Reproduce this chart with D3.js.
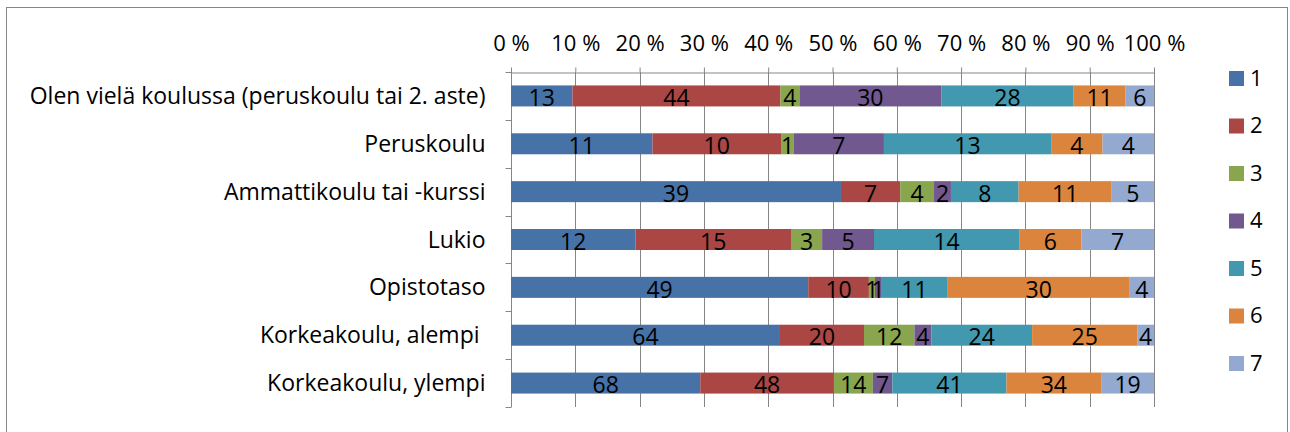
<!DOCTYPE html>
<html>
<head>
<meta charset="UTF-8">
<script src="https://d3js.org/d3.v7.min.js"></script>
<style>
  body { margin: 0; background: #fff; }
  text { font-family: "Open Sans", "Noto Sans", sans-serif; fill: #000; }
</style>
</head>
<body>
<svg id="chart" width="1290" height="432"></svg>
<script>
// categories (top to bottom)
var categories = [
  'Olen vielä koulussa (peruskoulu tai 2. aste)',
  'Peruskoulu',
  'Ammattikoulu tai -kurssi',
  'Lukio',
  'Opistotaso',
  'Korkeakoulu, alempi ',
  'Korkeakoulu, ylempi'
];
var seriesNames = ['1', '2', '3', '4', '5', '6', '7'];
// counts per series, one value per category
var s1 = [13, 11, 39, 12, 49, 64, 68];
var s2 = [44, 10, 7, 15, 10, 20, 48];
var s3 = [4, 1, 4, 3, 1, 12, 14];
var s4 = [30, 7, 2, 5, 1, 4, 7];
var s5 = [28, 13, 8, 14, 11, 24, 41];
var s6 = [11, 4, 11, 6, 30, 25, 34];
var s7 = [6, 4, 5, 7, 4, 4, 19];
var tickValues = [0, 0.1, 0.2, 0.3, 0.4, 0.5, 0.6, 0.7, 0.8, 0.9, 1];

var colors = ['#4672a8', '#aa4643', '#89a54e', '#71588f', '#4198af', '#db843d', '#93a9cf'];
var allSeries = [s1, s2, s3, s4, s5, s6, s7];
var fontSize = '22px';

var svg = d3.select('#chart');

// outer frame
svg.append('rect')
   .attr('x', 6.5).attr('y', 7.5)
   .attr('width', 1281).attr('height', 440)
   .attr('fill', 'none').attr('stroke', '#868686').attr('stroke-width', 1);

var plotLeft = 511, plotRight = 1154, plotTop = 72, plotBottom = 407;

var x = d3.scaleLinear().domain([0, 1]).range([plotLeft, plotRight]);
var y = d3.scaleBand().domain(categories).range([plotTop, plotBottom]);

// build normalised stacks
var rows = categories.map(function(c, i) {
  var total = d3.sum(allSeries, function(s) { return s[i]; });
  var acc = 0;
  return allSeries.map(function(s, k) {
    var v = s[i];
    var seg = { cat: c, k: k, value: v, x0: acc / total, x1: (acc + v) / total };
    acc += v;
    return seg;
  });
});

// gridlines
svg.append('g').selectAll('line')
   .data(tickValues.slice(1))
   .enter().append('line')
     .attr('x1', function(d) { return Math.round(x(d)) + 0.5; })
     .attr('x2', function(d) { return Math.round(x(d)) + 0.5; })
     .attr('y1', plotTop).attr('y2', plotBottom)
     .attr('stroke', '#868686').attr('stroke-width', 1);

// top axis (line + ticks), labels placed higher
var xAxis = svg.append('g')
   .attr('transform', 'translate(0,' + (plotTop + 0.5) + ')')
   .call(d3.axisTop(x).tickValues(tickValues).tickSize(5).tickSizeOuter(0)
          .tickFormat(function(d) { return Math.round(d * 100) + ' %'; }));
xAxis.select('.domain').attr('stroke', '#868686');
xAxis.selectAll('.tick line').attr('stroke', '#868686');
xAxis.selectAll('.tick text')
     .attr('y', -22)
     .style('font-size', fontSize)
     .style('font-family', '"Open Sans", sans-serif')
     .attr('fill', '#000');

// left axis
var yAxis = svg.append('g')
   .attr('transform', 'translate(' + (plotLeft + 0.5) + ',0)');
yAxis.append('line')
     .attr('x1', 0).attr('x2', 0).attr('y1', plotTop).attr('y2', plotBottom)
     .attr('stroke', '#868686');
yAxis.selectAll('line.tk')
     .data(d3.range(categories.length + 1))
     .enter().append('line')
       .attr('class', 'tk')
       .attr('x1', -6).attr('x2', 0)
       .attr('y1', function(i) { return Math.round(plotTop + i * y.step()) + 0.5; })
       .attr('y2', function(i) { return Math.round(plotTop + i * y.step()) + 0.5; })
       .attr('stroke', '#868686');
yAxis.selectAll('text')
     .data(categories)
     .enter().append('text')
       .attr('x', -26)
       .attr('y', function(d) { return y(d) + y.bandwidth() / 2; })
       .attr('dy', '0.35em')
       .attr('text-anchor', 'end')
       .style('font-size', '23px')
       .style('white-space', 'pre')
       .text(function(d) { return d; });

// bars
var barH = 21;
var gRows = svg.append('g').selectAll('g')
   .data(rows).enter().append('g');

gRows.selectAll('rect')
   .data(function(d) { return d; })
   .enter().append('rect')
     .attr('x', function(d) { return x(d.x0); })
     .attr('width', function(d) { return x(d.x1) - x(d.x0); })
     .attr('y', function(d) { return y(d.cat) + y.bandwidth() / 2 - barH / 2; })
     .attr('height', barH)
     .attr('fill', function(d) { return colors[d.k]; });

gRows.selectAll('text')
   .data(function(d) { return d; })
   .enter().append('text')
     .attr('x', function(d) { return (x(d.x0) + x(d.x1)) / 2; })
     .attr('y', function(d) { return y(d.cat) + y.bandwidth() / 2 + 2; })
     .attr('dy', '0.36em')
     .attr('text-anchor', 'middle')
     .style('font-size', '23px')
     .text(function(d) { return d.value; });

// legend
var legend = svg.append('g').selectAll('g')
   .data(seriesNames).enter().append('g')
   .attr('transform', function(d, i) { return 'translate(1229,' + (78 + i * 47.5) + ')'; });
legend.append('rect')
   .attr('x', 0).attr('y', -7).attr('width', 15).attr('height', 15)
   .attr('fill', function(d, i) { return colors[i]; });
legend.append('text')
   .attr('x', 21).attr('y', 0).attr('dy', '0.36em')
   .style('font-size', fontSize)
   .text(function(d) { return d; });
</script>
</body>
</html>
